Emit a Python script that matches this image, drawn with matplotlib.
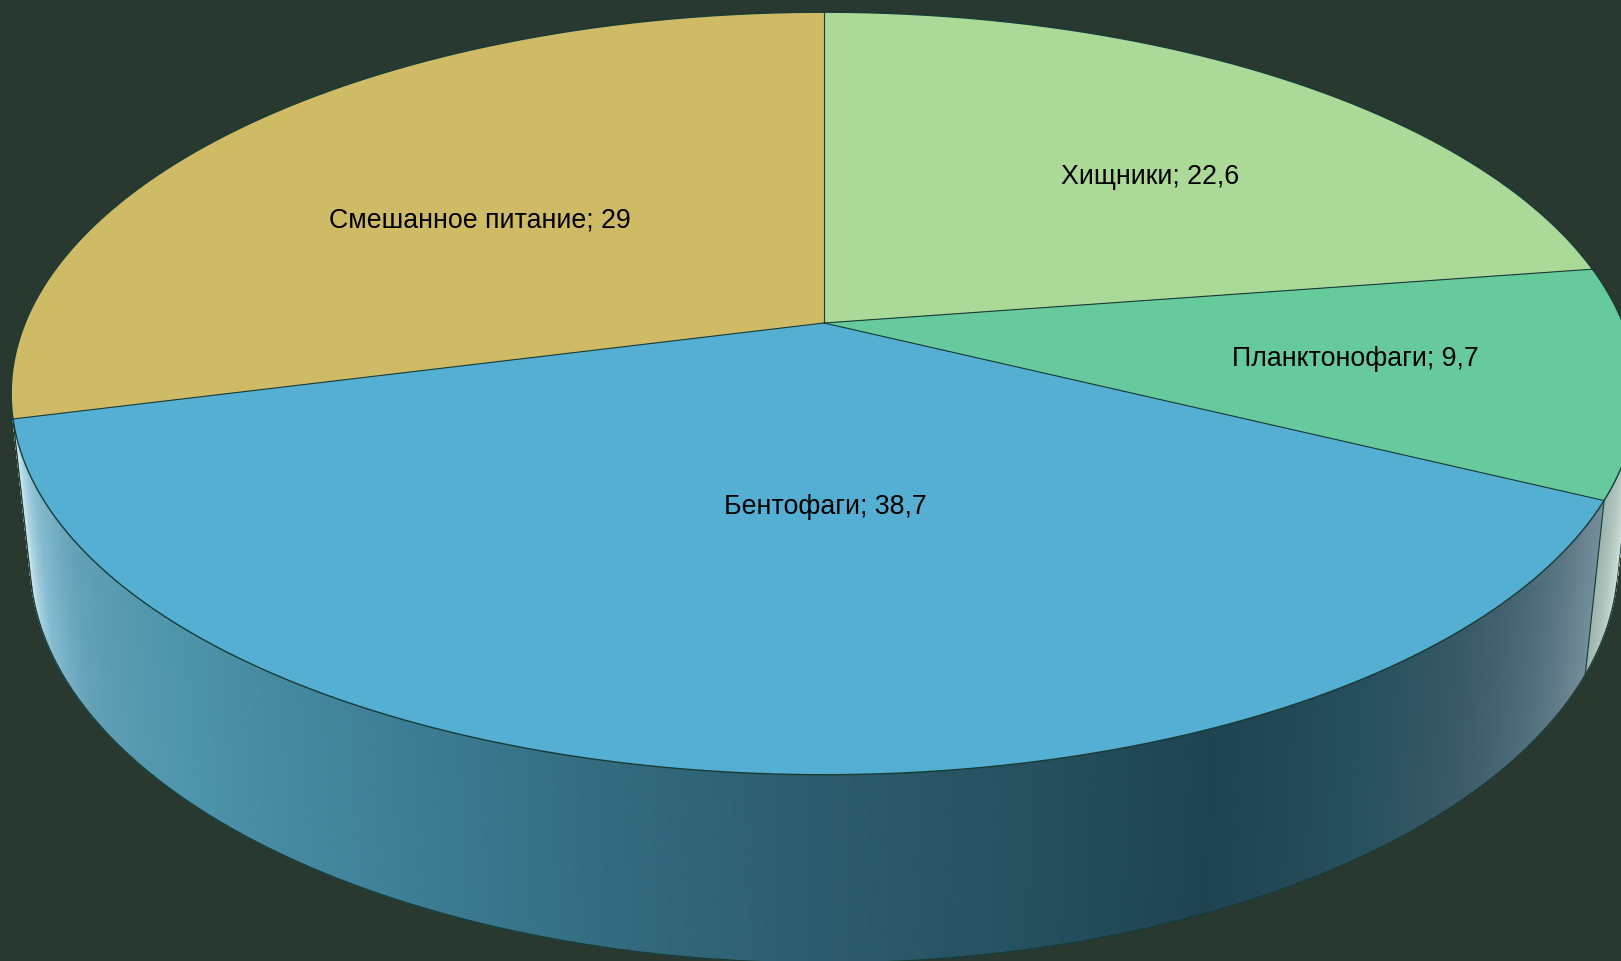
import numpy as np
import matplotlib
matplotlib.use("Agg")
import matplotlib.pyplot as plt
from matplotlib.collections import PolyCollection
from matplotlib.patches import Polygon
from matplotlib.colors import to_rgb

# ---- data -----------------------------------------------------------------
categories = ["Хищники", "Планктонофаги", "Бентофаги", "Смешанное питание"]
values = [22.6, 9.7, 38.7, 29]

# ---- styling ----------------------------------------------------------------
top_colors = ["#ABD998", "#66CA9C", "#55AFD3", "#CFBB66"]
# side-wall shading, (angle clockwise from the back, colour)
side_shading = [
    [(100, "#B8D8A8"), (260, "#B8D8A8")],
    [(103, "#E4EEEA"), (108, "#CCDCD6"), (116.5, "#9CB4AC")],
    [(116, "#76909E"), (120, "#6A8490"), (128, "#4E6C7A"), (136, "#3A5A68"),
     (145, "#27505E"), (156, "#1F4352"), (167, "#24505F"), (180, "#2C5C6E"),
     (193, "#336C80"), (207, "#3E8098"), (225, "#4E96AE"), (238, "#64A2B8"),
     (246, "#86BCD0"), (252, "#B8DCE8"), (256.5, "#E2F2F6")],
    [(250, "#F0E8C0"), (260, "#F0E8C0")],
]
label_pos = [(1150, 176.5), (1355, 358.5), (825, 507), (480, 220.5)]
bg = "#29392F"
edge = "#173B37"

W, H = 1621, 961
U0, V0 = 824.0, 323.0          # projected pie centre (pixels)
F = 3836.0                      # focal length (pixels)
ELEV = np.radians(27.45)        # camera elevation
DIST = 4.802                    # camera distance (pie radii)
THICK = 0.237                   # pie thickness (pie radii)
cE, sE = np.cos(ELEV), np.sin(ELEV)


def proj(theta_deg, z=0.0, r=1.0):
    t = np.radians(np.asarray(theta_deg, dtype=float))
    x, y = r * np.sin(t), r * np.cos(t)
    zc = DIST + y * cE - z * sE
    u = U0 + F * x / zc
    v = V0 - F * (y * sE + z * cE) / zc
    return np.column_stack([np.atleast_1d(u), np.atleast_1d(v)])


def shade(stops, theta):
    th = np.array([s[0] for s in stops])
    cols = np.array([to_rgb(s[1]) for s in stops])
    return np.column_stack([np.interp(theta, th, cols[:, k]) for k in range(3)])


fig = plt.figure(figsize=(W / 100, H / 100), dpi=100)
fig.patch.set_facecolor(bg)
ax = fig.add_axes([0, 0, 1, 1])
ax.set_facecolor(bg)
ax.set_xlim(0, W)
ax.set_ylim(H, 0)
ax.axis("off")

total = float(sum(values))
bounds = np.concatenate([[0.0], np.cumsum(values) / total * 360.0])

# visible part of the cylinder wall
t_vis = np.degrees(np.arccos(-1.0 / (DIST * cE)))
vis_lo, vis_hi = t_vis, 360.0 - t_vis

# side walls
for i in range(len(values)):
    a, b = max(bounds[i], vis_lo), min(bounds[i + 1], vis_hi)
    if b <= a:
        continue
    n = max(int((b - a) * 6), 2)
    th = np.linspace(a, b, n + 1)
    top = proj(th, 0.0)
    bot = proj(th, -THICK)
    quads = [[top[k], top[k + 1], bot[k + 1], bot[k]] for k in range(n)]
    cols = shade(side_shading[i], 0.5 * (th[:-1] + th[1:]))
    ax.add_collection(PolyCollection(quads, facecolors=cols, edgecolors=cols,
                                     linewidths=0.6, zorder=1))

# top faces
centre = np.array([[U0, V0]])
for i in range(len(values)):
    th = np.linspace(bounds[i], bounds[i + 1], 400)
    pts = np.vstack([centre, proj(th, 0.0)])
    ax.add_patch(Polygon(pts, closed=True, facecolor=top_colors[i],
                         edgecolor="none", zorder=2))

# outlines
lw = 1.0
rim = proj(np.linspace(0, 360, 1441), 0.0)
ax.plot(rim[:, 0], rim[:, 1], color=edge, lw=lw, zorder=3)
for t in bounds[:-1]:
    p = proj(t, 0.0)[0]
    ax.plot([U0, p[0]], [V0, p[1]], color=edge, lw=0.8, zorder=3)
    if vis_lo < t < vis_hi:
        q = proj(t, -THICK)[0]
        ax.plot([p[0], q[0]], [p[1], q[1]], color=edge, lw=0.8, zorder=3)
bottom = proj(np.linspace(vis_lo, vis_hi, 800), -THICK)
ax.plot(bottom[:, 0], bottom[:, 1], color=edge, lw=lw, zorder=3)
for t in (vis_lo, vis_hi):
    p, q = proj(t, 0.0)[0], proj(t, -THICK)[0]
    ax.plot([p[0], q[0]], [p[1], q[1]], color=edge, lw=0.6, zorder=3)

# data labels
for name, val, (x, y) in zip(categories, values, label_pos):
    txt = f"{name}; {val:g}".replace(".", ",")
    ax.text(x, y, txt, ha="center", va="center", fontsize=19.3,
            family=["Liberation Sans", "DejaVu Sans"], color="black", zorder=4)

fig.savefig("out.png", dpi=100, facecolor=bg)
